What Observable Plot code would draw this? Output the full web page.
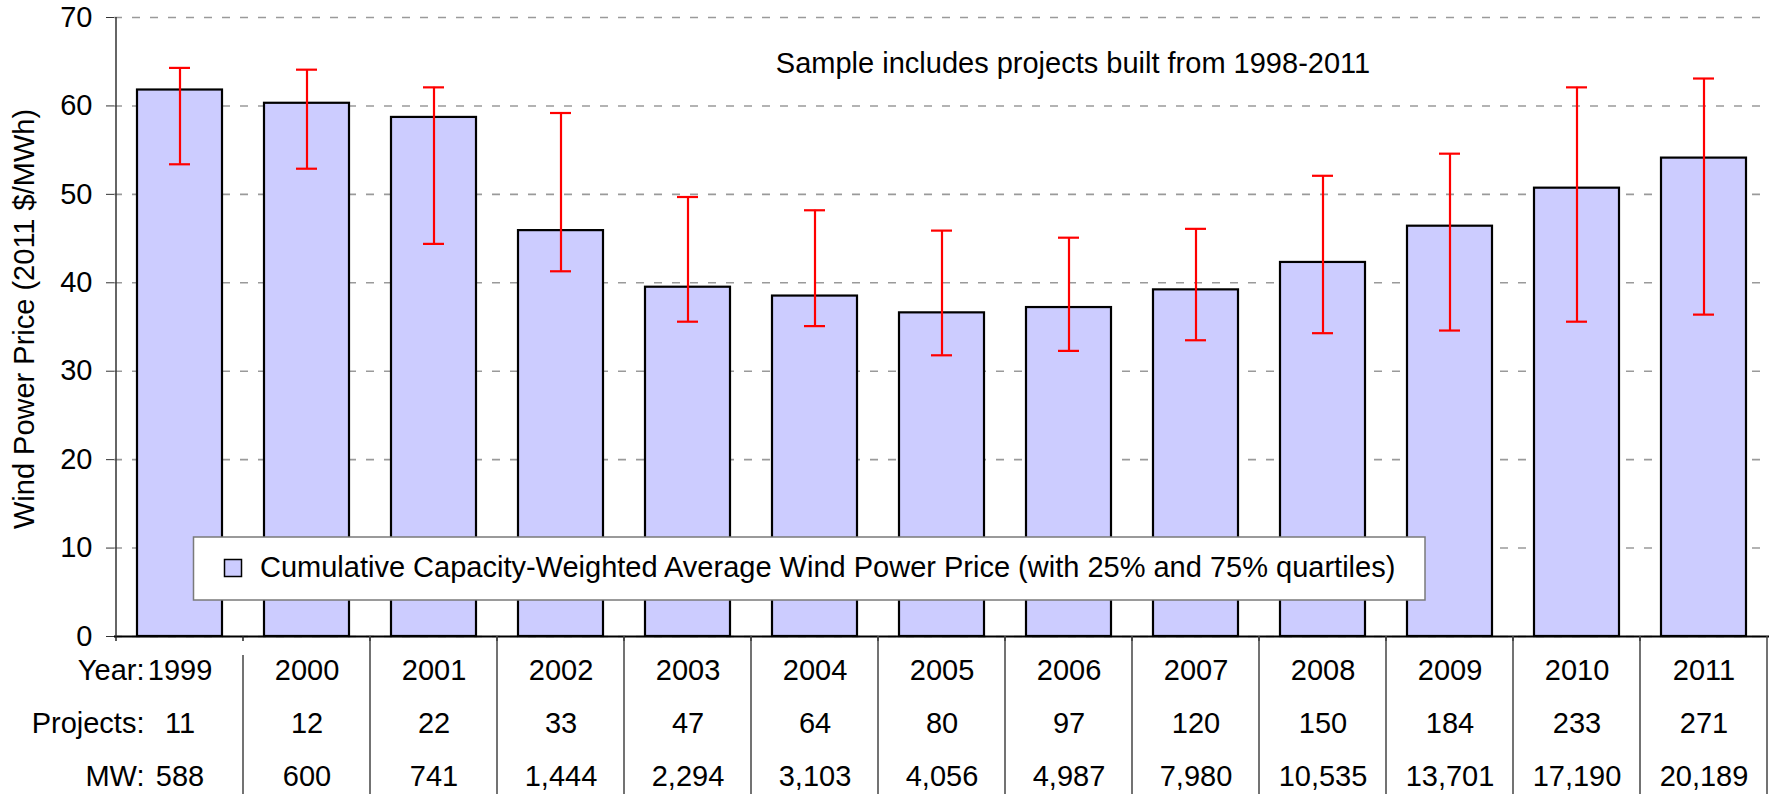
<!DOCTYPE html>
<html>
<head>
<meta charset="utf-8">
<script src="https://cdn.jsdelivr.net/npm/d3@7"></script>
<script src="https://cdn.jsdelivr.net/npm/@observablehq/plot@0.6"></script>
<style>
html, body { margin: 0; padding: 0; background: #fff; }
#chart svg { display: block; }
</style>
</head>
<body>
<div id="chart"></div>
<script>
// ---- Data ----
const years = ["1999","2000","2001","2002","2003","2004","2005","2006","2007","2008","2009","2010","2011"];
const avgPrice = [61.8, 60.3, 58.7, 45.9, 39.5, 38.5, 36.6, 37.2, 39.2, 42.3, 46.4, 50.7, 54.1];
const quartile25 = [53.4, 52.9, 44.4, 41.3, 35.6, 35.1, 31.8, 32.3, 33.5, 34.3, 34.6, 35.6, 36.4];
const quartile75 = [64.3, 64.1, 62.1, 59.2, 49.7, 48.2, 45.9, 45.1, 46.1, 52.1, 54.6, 62.1, 63.1];
const projects = [11, 12, 22, 33, 47, 64, 80, 97, 120, 150, 184, 233, 271];
const megawatts = [588, 600, 741, 1444, 2294, 3103, 4056, 4987, 7980, 10535, 13701, 17190, 20189];
const yTicks = [0, 10, 20, 30, 40, 50, 60, 70];
const rowLabels = ["Year:", "Projects:", "MW:"];
const yTitle = "Wind Power Price (2011 $/MWh)";
const note = "Sample includes projects built from 1998-2011";
const legendLabel = "Cumulative Capacity-Weighted Average Wind Power Price (with 25% and 75% quartiles)";

const data = years.map((year, i) => ({
  year, price: avgPrice[i], lo: quartile25[i], hi: quartile75[i],
  projects: projects[i], mw: megawatts[i]
}));

const FONT = "'Liberation Sans', Arial, Helvetica, sans-serif";
const FS = 29;
const W = 1773, H = 794;
const fmt = d3.format(",");
const rowDy = [43, 96, 149];
const rowFields = [d => d.year, d => String(d.projects), d => fmt(d.mw)];

const tableMarks = [];
rowFields.forEach((f, i) => {
  tableMarks.push(Plot.text(data, {x: "year", frameAnchor: "bottom", text: f, lineAnchor: "bottom", dy: rowDy[i], fontSize: FS, fill: "black"}));
  tableMarks.push(Plot.text([rowLabels[i]], {frameAnchor: "bottom-left", text: d => d, textAnchor: "end", lineAnchor: "bottom", dx: 30, dy: rowDy[i], fontSize: FS, fill: "black"}));
});

const plot = Plot.plot({
  width: W, height: H,
  marginLeft: 114, marginRight: 4, marginTop: 17, marginBottom: 158,
  style: {fontFamily: FONT, fontSize: FS + "px", background: "white", color: "black", overflow: "visible"},
  x: {domain: years, paddingInner: 0.327, paddingOuter: 0.1635, axis: null},
  y: {domain: [0, 70], label: null},
  marks: [
    Plot.gridY(yTicks, {stroke: "#9a9a9a", strokeOpacity: 1, strokeWidth: 1.6, strokeDasharray: "8,10"}),
    Plot.barY(data, {x: "year", y: "price", fill: "#ccccff", stroke: "black", strokeWidth: 2.2}),
    Plot.ruleX(data, {x: "year", y1: "lo", y2: "hi", stroke: "#ff0000", strokeWidth: 2.2}),
    Plot.tickY(data, {x: "year", y: "lo", stroke: "#ff0000", strokeWidth: 2.2, insetLeft: 32, insetRight: 32}),
    Plot.tickY(data, {x: "year", y: "hi", stroke: "#ff0000", strokeWidth: 2.2, insetLeft: 32, insetRight: 32}),
    Plot.ruleY([0], {stroke: "black", strokeWidth: 2}),
    Plot.axisY({ticks: yTicks, tickSize: 8, tickPadding: 14, label: null, stroke: "#333"}),
    Plot.text([yTitle], {frameAnchor: "left", text: d => d, rotate: -90, textAnchor: "middle", lineAnchor: "middle", dx: -90, dy: -8, fontSize: FS, fill: "black"}),
    Plot.text([note], {frameAnchor: "top", text: d => d, textAnchor: "middle", lineAnchor: "bottom", dx: 131, dy: 55, fontSize: FS, fill: "black"}),
    ...tableMarks
  ]
});

document.getElementById("chart").appendChild(plot);

// ---- Extra chrome drawn from the library's scales ----
const xs = plot.scale("x"), ys = plot.scale("y");
const svg = d3.select(plot);
const step = xs.step, bw = xs.bandwidth;
const left = xs.apply(years[0]) - (step - bw) / 2;
const y0 = ys.apply(0), yTop = ys.apply(70);
const g = svg.append("g");
// y axis line
g.append("line").attr("x1", left).attr("x2", left).attr("y1", yTop).attr("y2", y0)
  .attr("stroke", "#333").attr("stroke-width", 1.5);
// x axis category ticks and data-table separators
for (let i = 0; i <= years.length; i++) {
  const bx = left + i * step;
  if (i < years.length) {
    g.append("line").attr("x1", bx).attr("x2", bx).attr("y1", y0).attr("y2", y0 + 5)
      .attr("stroke", "#222").attr("stroke-width", 1.5);
  }
  if (i >= 1) {
    g.append("line").attr("x1", bx).attr("x2", bx).attr("y1", i === 1 ? y0 + 19 : y0).attr("y2", H)
      .attr("stroke", "#444").attr("stroke-width", 1.5);
  }
}
// legend
const lg = svg.append("g");
lg.append("rect").attr("x", 193.5).attr("y", 537).attr("width", 1231.5).attr("height", 63)
  .attr("fill", "white").attr("stroke", "#7a7a7a").attr("stroke-width", 1.5);
lg.append("rect").attr("x", 224.5).attr("y", 559.5).attr("width", 17).attr("height", 17)
  .attr("fill", "#ccccff").attr("stroke", "black").attr("stroke-width", 1.5);
lg.append("text").attr("x", 260).attr("y", 577).attr("font-size", FS).attr("font-family", FONT)
  .attr("text-anchor", "start").attr("fill", "black").text(legendLabel);
</script>
</body>
</html>
